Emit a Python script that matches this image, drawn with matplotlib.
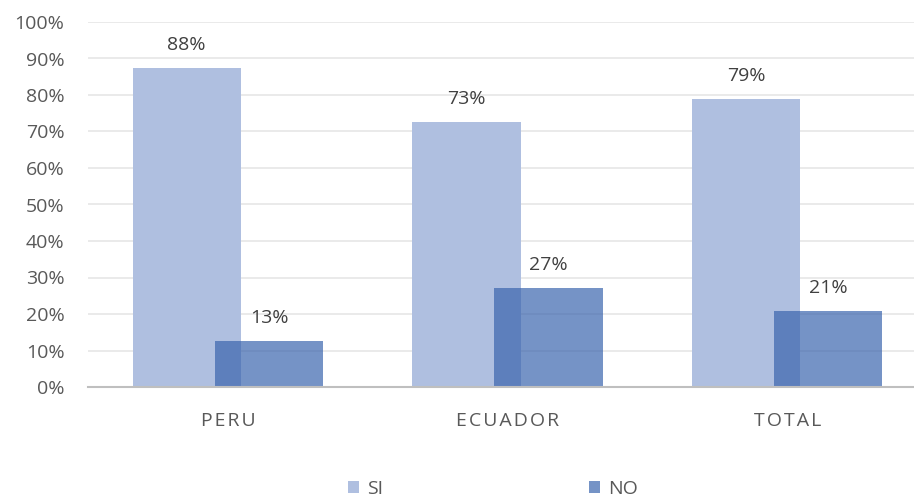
import matplotlib
matplotlib.use("Agg")
import matplotlib.pyplot as plt
import numpy as np
from matplotlib.ticker import FuncFormatter, MultipleLocator

categories = ["PERU", "ECUADOR", "TOTAL"]
si_values = [0.875, 0.726, 0.789]
no_values = [0.125, 0.271, 0.208]
si_labels = ["88%", "73%", "79%"]
no_labels = ["13%", "27%", "21%"]

plt.rcParams['font.family'] = ['Open Sans', 'DejaVu Sans']

fig = plt.figure(figsize=(9.14, 4.98), dpi=100)
ax = fig.add_axes([88/914, 1-387/498, (927-88)/914, (387-22)/498])

x = np.arange(len(categories))
w = 0.387
off = 0.147
si_color = "#AFBFE0"
no_color = (59/255, 101/255, 174/255, 0.7)

b1 = ax.bar(x - off, si_values, w, color=si_color, label="SI", zorder=2)
b2 = ax.bar(x + off, no_values, w, color=no_color, label="NO", zorder=3)

for bars, labs in ((b1, si_labels), (b2, no_labels)):
    for r, t in zip(bars, labs):
        ax.annotate(t, (r.get_x() + r.get_width()/2, r.get_height()),
                    xytext=(0, 10), textcoords="offset points",
                    ha="center", va="bottom", fontsize=14, color="#404040")

ax.set_xlim(-0.5, 2.5)
ax.set_ylim(0, 1.0)
ax.yaxis.set_major_locator(MultipleLocator(0.1))
ax.yaxis.set_major_formatter(FuncFormatter(lambda v, p: f"{v*100:.0f}%"))
ax.grid(axis="y", color="#E6E6E6", lw=1.2, zorder=0)
ax.set_axisbelow(True)
for s in ("top", "right", "left"):
    ax.spines[s].set_visible(False)
ax.spines["bottom"].set_color("#BFBFBF")
ax.spines["bottom"].set_linewidth(1.5)
ax.spines["bottom"].set_zorder(4)
ax.set_xticks(x)
ax.set_xticklabels(["\u200a".join(c) for c in categories])
ax.tick_params(axis="both", length=0, labelsize=14, colors="#595959")
ax.tick_params(axis="x", pad=18)
ax.tick_params(axis="y", pad=17)

leg = fig.legend(handles=[b1, b2], labels=["SI", "NO"], loc="center",
                 bbox_to_anchor=(493/914, 1-489/498), ncol=2, frameon=False,
                 fontsize=14, handlelength=0.55, handleheight=0.55,
                 handletextpad=0.4, columnspacing=10.6, labelcolor="#595959")

fig.savefig("out.png", dpi=100)
